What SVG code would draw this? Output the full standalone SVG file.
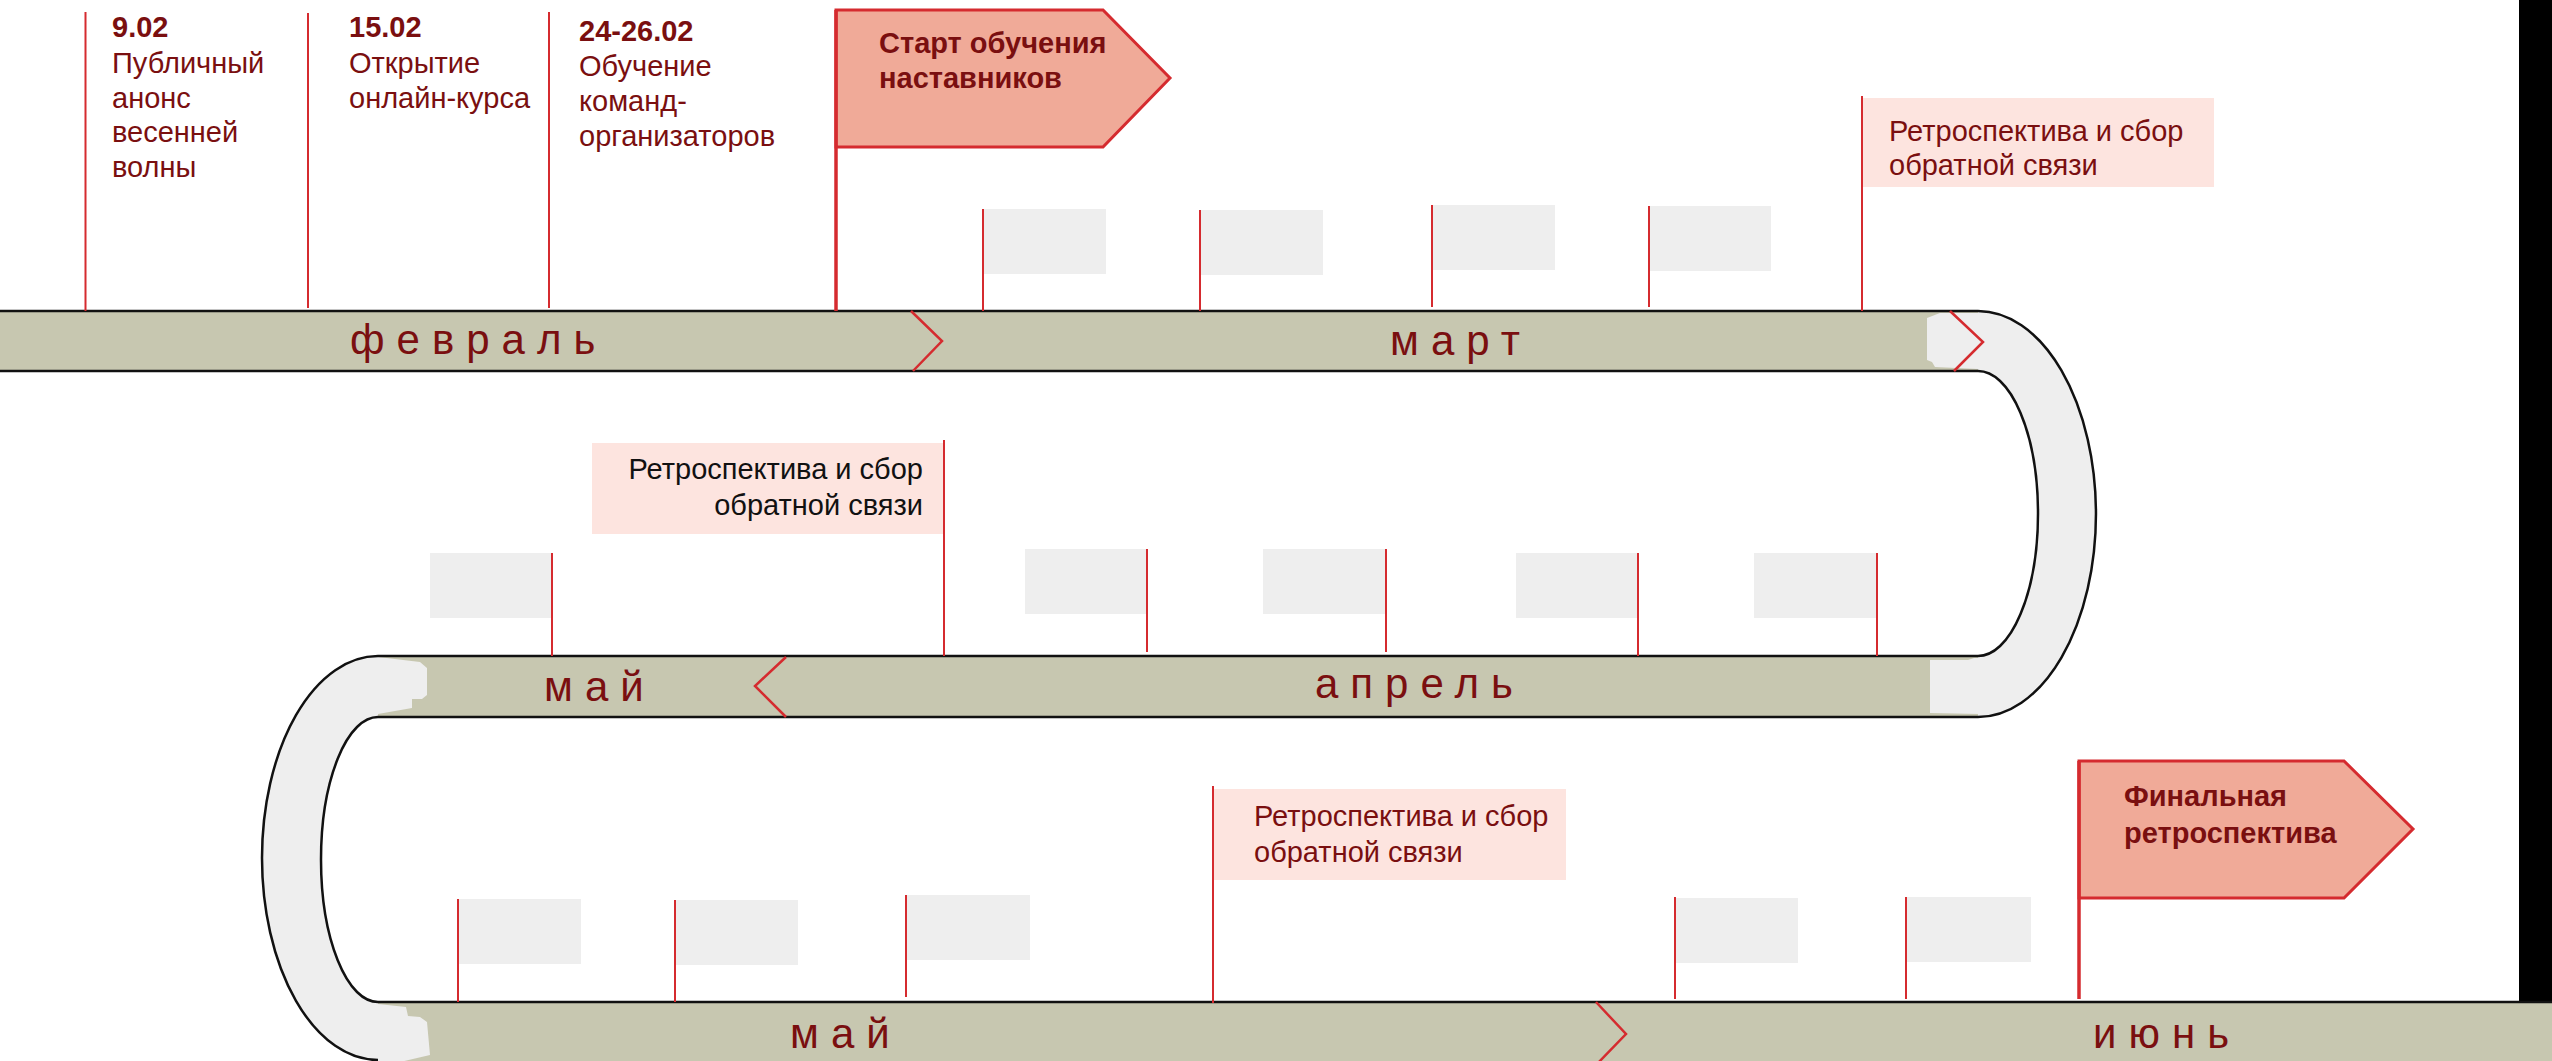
<svg xmlns="http://www.w3.org/2000/svg" width="2552" height="1061" viewBox="0 0 2552 1061">
<style>
.band{fill:#C7C7B0}
.edge{stroke:#111;stroke-width:2.5;fill:none}
.loop{fill:#EEEEEE}
.pole{stroke:#D52B2F;stroke-width:2;fill:none}
.chev{stroke:#D52B2F;stroke-width:2.5;fill:none}
.gbox{fill:#EEEEEE}
.pbox{fill:#FDE4DF}
.flag{fill:#F0AA98;stroke:#D52B2F;stroke-width:3}
.t{font-family:"Liberation Sans",Arial,sans-serif;font-size:29px;fill:#7A0F10}
.b{font-weight:bold}
.r{font-family:"Liberation Sans",Arial,sans-serif;font-size:29px;fill:#7A0F10}
.rk{font-family:"Liberation Sans",Arial,sans-serif;font-size:29px;fill:#111}
.m{font-family:"Liberation Sans",Arial,sans-serif;font-size:42px;fill:#7A0F10;letter-spacing:12px}
</style>
<rect x="0" y="0" width="2552" height="1061" fill="#fff"/>
<rect x="2519" y="0" width="33" height="1002" fill="#000"/>

<g id="bands">
  <rect class="band" x="0" y="311" width="1980" height="60"/>
  <rect class="band" x="377" y="656" width="1603" height="61"/>
  <rect class="band" x="377" y="1002" width="2175" height="62"/>
  <path class="loop" d="M1978,311 A118,203 0 0 1 1978,717 L1978,656 A60,142.5 0 0 0 1978,371 Z"/>
  <path class="loop" d="M378,656 A116,202 0 0 0 378,1060 L378,1002 A57,142.5 0 0 1 378,717 Z"/>
  <path class="loop" d="M1927,318 L1940,313 L1978,313 L1978,369 L1935,367 L1932,362 L1927,360 Z"/>
  <path class="loop" d="M1930,660 L1968,660 L1974,658 L1980,658 L1980,714 L1930,713 Z"/>
  <path class="loop" d="M378,657 L420,662 L427,668 L427,695 L422,699 L412,699 L412,708 L378,714 Z"/>
  <path class="loop" d="M378,1004 L406,1007 L408,1016 L420,1017 L427,1022 L430,1055 L400,1062 L378,1062 Z"/>
</g>

<g id="connectors">
  <path class="edge" d="M0,311 H1978 A118,203 0 0 1 1978,717 H378 A57,142.5 0 0 0 378,1002 H2552"/>
  <path class="edge" d="M0,371 H1978 A60,142.5 0 0 1 1978,656 H378 A116,202 0 0 0 378,1060"/>
  <path class="chev" d="M911,311 L942,341 L913,371"/>
  <path class="chev" d="M1950,311 L1983,342 L1954,371"/>
  <path class="chev" d="M786,657 L755,686 L786,717"/>
  <path class="chev" d="M1596,1002 L1626,1034 L1597,1064"/>
</g>

<g id="month-labels">
  <text class="m" x="350" y="354">февраль</text>
  <text class="m" x="1390" y="355">март</text>
  <text class="m" x="544" y="701">май</text>
  <text class="m" x="1315" y="698">апрель</text>
  <text class="m" x="790" y="1048">май</text>
  <text class="m" x="2093" y="1048">июнь</text>
</g>

<g id="event-9-02">
  <line class="pole" x1="85.5" y1="12" x2="85.5" y2="311"/>
  <text class="t b" x="112" y="37">9.02</text>
  <text class="t" x="112" y="73">Публичный</text>
  <text class="t" x="112" y="107.5">анонс</text>
  <text class="t" x="112" y="142">весенней</text>
  <text class="t" x="112" y="176.5">волны</text>
</g>
<g id="event-15-02">
  <line class="pole" x1="308" y1="13" x2="308" y2="308"/>
  <text class="t b" x="349" y="37">15.02</text>
  <text class="t" x="349" y="73">Открытие</text>
  <text class="t" x="349" y="107.5">онлайн-курса</text>
</g>
<g id="event-24-26-02">
  <line class="pole" x1="549" y1="12" x2="549" y2="308"/>
  <text class="t b" x="579" y="40.5">24-26.02</text>
  <text class="t" x="579" y="76">Обучение</text>
  <text class="t" x="579" y="111">команд-</text>
  <text class="t" x="579" y="146">организаторов</text>
</g>

<g id="flag-start">
  <polygon class="flag" points="836,10 1103,10 1170,78 1103,147 836,147"/>
  <line x1="836" y1="10" x2="836" y2="311" stroke="#D52B2F" stroke-width="3.5"/>
  <text class="t b" x="879" y="53">Старт обучения</text>
  <text class="t b" x="879" y="88">наставников</text>
</g>

<g id="march-slots">
  <rect class="gbox" x="983" y="209" width="123" height="65"/>
  <line class="pole" x1="983" y1="209" x2="983" y2="311"/>
  <rect class="gbox" x="1200" y="210" width="123" height="65"/>
  <line class="pole" x1="1200" y1="210" x2="1200" y2="311"/>
  <rect class="gbox" x="1432" y="205" width="123" height="65"/>
  <line class="pole" x1="1432" y1="205" x2="1432" y2="307"/>
  <rect class="gbox" x="1649" y="206" width="122" height="65"/>
  <line class="pole" x1="1649" y1="206" x2="1649" y2="307"/>
</g>

<g id="retro-1">
  <rect class="pbox" x="1862" y="98" width="352" height="89"/>
  <line class="pole" x1="1862" y1="96" x2="1862" y2="311"/>
  <text class="r" x="1889" y="140.5">Ретроспектива и сбор</text>
  <text class="r" x="1889" y="175">обратной связи</text>
</g>

<g id="retro-2">
  <rect class="pbox" x="592" y="443" width="352" height="91"/>
  <line class="pole" x1="944" y1="440" x2="944" y2="656"/>
  <text class="rk" x="923" y="479" text-anchor="end">Ретроспектива и сбор</text>
  <text class="rk" x="923" y="515" text-anchor="end">обратной связи</text>
</g>

<g id="april-may-slots">
  <rect class="gbox" x="430" y="553" width="122" height="65"/>
  <line class="pole" x1="552" y1="553" x2="552" y2="656"/>
  <rect class="gbox" x="1025" y="549" width="122" height="65"/>
  <line class="pole" x1="1147" y1="549" x2="1147" y2="652"/>
  <rect class="gbox" x="1263" y="549" width="122" height="65"/>
  <line class="pole" x1="1386" y1="549" x2="1386" y2="652"/>
  <rect class="gbox" x="1516" y="553" width="122" height="65"/>
  <line class="pole" x1="1638" y1="553" x2="1638" y2="656"/>
  <rect class="gbox" x="1754" y="553" width="122" height="65"/>
  <line class="pole" x1="1877" y1="553" x2="1877" y2="656"/>
</g>

<g id="may-june-slots">
  <rect class="gbox" x="458" y="899" width="123" height="65"/>
  <line class="pole" x1="458" y1="899" x2="458" y2="1002"/>
  <rect class="gbox" x="675" y="900" width="123" height="65"/>
  <line class="pole" x1="675" y1="900" x2="675" y2="1002"/>
  <rect class="gbox" x="906" y="895" width="124" height="65"/>
  <line class="pole" x1="906" y1="895" x2="906" y2="997"/>
  <rect class="gbox" x="1675" y="898" width="123" height="65"/>
  <line class="pole" x1="1675" y1="897" x2="1675" y2="999"/>
  <rect class="gbox" x="1906" y="897" width="125" height="65"/>
  <line class="pole" x1="1906" y1="897" x2="1906" y2="999"/>
</g>

<g id="retro-3">
  <rect class="pbox" x="1213" y="789" width="353" height="91"/>
  <line class="pole" x1="1213" y1="786" x2="1213" y2="1003"/>
  <text class="r" x="1254" y="826">Ретроспектива и сбор</text>
  <text class="r" x="1254" y="862">обратной связи</text>
</g>

<g id="flag-final">
  <polygon class="flag" points="2079,761 2344,761 2413,829 2344,898 2079,898"/>
  <line x1="2079" y1="761" x2="2079" y2="999" stroke="#D52B2F" stroke-width="3.5"/>
  <text class="t b" x="2124" y="806">Финальная</text>
  <text class="t b" x="2124" y="843">ретроспектива</text>
</g>
</svg>
